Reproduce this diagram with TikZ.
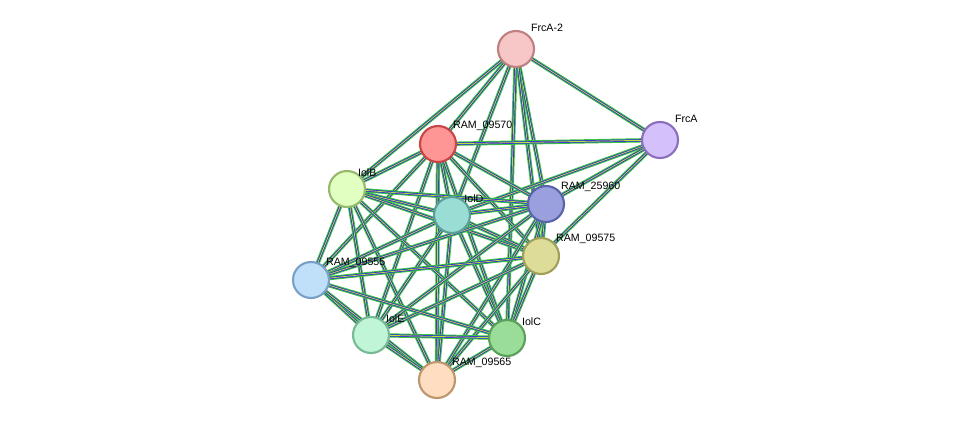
\documentclass[tikz,border=0pt]{standalone}
\usepackage{fontspec}
\setmainfont{Liberation Sans}
\usetikzlibrary{positioning}
\tikzset{
  prot/.style={circle,draw,line width=1.6pt,minimum size=36\unitpx,inner sep=0pt},
  lbl/.style={font=\fontsize{8}{9}\selectfont,inner sep=1pt},
  edgeA/.style={draw={rgb,255:red,60;green,200;blue,60},line width=3.2pt},
  edgeB/.style={draw={rgb,255:red,40;green,40;blue,230},line width=1.7pt},
  edgeC/.style={draw={rgb,255:red,200;green,215;blue,60},line width=0.6pt}
}
\newlength{\unitpx}\setlength{\unitpx}{0.0264cm}
\begin{document}
\begin{tikzpicture}[x=0.0264cm,y=-0.0264cm]
\useasboundingbox (0,0) rectangle (976,426);

\coordinate (c-frca2) at (516,49);
\coordinate (c-frca) at (660,140);
\coordinate (c-r09570) at (438,144);
\coordinate (c-iolb) at (347,189);
\coordinate (c-iold) at (452,215);
\coordinate (c-r25960) at (546,204);
\coordinate (c-r09575) at (541,256);
\coordinate (c-r09555) at (311,280);
\coordinate (c-iole) at (371,335);
\coordinate (c-iolc) at (507,338);
\coordinate (c-r09565) at (437,380);

% edges
\foreach \a/\b in {frca2/frca,frca2/r09570,frca2/iolb,frca2/iold,frca2/r25960,frca2/r09575,frca2/iolc,
  frca/r09570,frca/r25960,frca/r09575,frca/iold,
  r09570/iolb,r09570/iold,r09570/r25960,r09570/r09575,r09570/r09555,r09570/iole,r09570/iolc,r09570/r09565,
  iolb/iold,iolb/r25960,iolb/r09575,iolb/r09555,iolb/iole,iolb/iolc,iolb/r09565,
  iold/r25960,iold/r09575,iold/r09555,iold/iole,iold/iolc,iold/r09565,
  r25960/r09575,r25960/r09555,r25960/iole,r25960/iolc,r25960/r09565,
  r09575/r09555,r09575/iole,r09575/iolc,r09575/r09565,
  r09555/iole,r09555/iolc,r09555/r09565,
  iole/iolc,iole/r09565,iolc/r09565} {
  \draw[edgeA] (c-\a) -- (c-\b);
  \draw[edgeB] (c-\a) -- (c-\b);
  \draw[edgeC] (c-\a) -- (c-\b);
}

% proteins
\node[prot,fill={rgb,255:red,247;green,198;blue,198},draw={rgb,255:red,190;green,128;blue,128}] (frca2) at (c-frca2) {};
\node[prot,fill={rgb,255:red,212;green,192;blue,250},draw={rgb,255:red,140;green,110;blue,190}] (frca) at (c-frca) {};
\node[prot,fill={rgb,255:red,255;green,150;blue,150},draw={rgb,255:red,200;green,70;blue,70}] (r09570) at (c-r09570) {};
\node[prot,fill={rgb,255:red,224;green,255;blue,192},draw={rgb,255:red,150;green,185;blue,110}] (iolb) at (c-iolb) {};
\node[prot,fill={rgb,255:red,153;green,221;blue,213},draw={rgb,255:red,90;green,160;blue,150}] (iold) at (c-iold) {};
\node[prot,fill={rgb,255:red,153;green,160;blue,221},draw={rgb,255:red,90;green,100;blue,170}] (r25960) at (c-r25960) {};
\node[prot,fill={rgb,255:red,221;green,221;blue,153},draw={rgb,255:red,160;green,160;blue,90}] (r09575) at (c-r09575) {};
\node[prot,fill={rgb,255:red,192;green,224;blue,250},draw={rgb,255:red,120;green,160;blue,200}] (r09555) at (c-r09555) {};
\node[prot,fill={rgb,255:red,192;green,245;blue,216},draw={rgb,255:red,120;green,185;blue,150}] (iole) at (c-iole) {};
\node[prot,fill={rgb,255:red,153;green,221;blue,153},draw={rgb,255:red,90;green,160;blue,90}] (iolc) at (c-iolc) {};
\node[prot,fill={rgb,255:red,255;green,221;blue,192},draw={rgb,255:red,190;green,150;blue,110}] (r09565) at (c-r09565) {};

% labels
\node[lbl,anchor=south west,yshift=2pt] at (frca2.north east) {FrcA-2};
\node[lbl,anchor=south west,yshift=2pt] at (frca.north east) {FrcA};
\node[lbl,anchor=south west,yshift=-1pt] at (r09570.north east) {RAM\_09570};
\node[lbl,anchor=south west,xshift=-3pt,yshift=-2pt] at (iolb.north east) {IolB};
\node[lbl,anchor=south west,xshift=-2pt,yshift=-2pt] at (iold.north east) {IolD};
\node[lbl,anchor=south west,yshift=-2pt] at (r25960.north east) {RAM\_25960};
\node[lbl,anchor=south west,yshift=-2pt] at (r09575.north east) {RAM\_09575};
\node[lbl,anchor=south west,yshift=-2pt] at (r09555.north east) {RAM\_09555};
\node[lbl,anchor=south west,yshift=-2pt] at (iole.north east) {IolE};
\node[lbl,anchor=south west,yshift=-2pt] at (iolc.north east) {IolC};
\node[lbl,anchor=south west,yshift=-2pt] at (r09565.north east) {RAM\_09565};
\end{tikzpicture}
\end{document}
